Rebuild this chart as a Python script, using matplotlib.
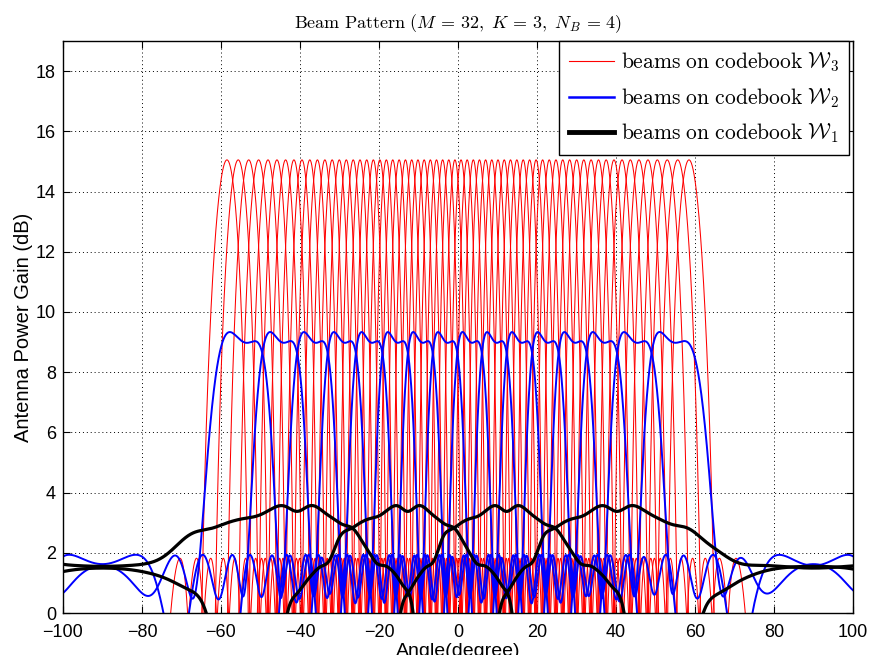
import numpy as np
import matplotlib
matplotlib.use("Agg")
import matplotlib.pyplot as plt
from matplotlib.lines import Line2D

# ---------------- chart data ----------------
M = 32              # antennas
K = 3               # codebook levels
N_B = 4             # beams split per level
coverage_deg = 60   # codebook covers [-60, 60] degrees

# beam profile of a codebook-W1 beam
# (offset from beam centre in sin(angle), gain in dB)
w1_offset = [-0.475, -0.43, -0.36, -0.33, -0.275, -0.24, -0.18, -0.13, -0.056,
             -0.005, 0.052, 0.147, 0.206, 0.295, 0.354, 0.426, 0.46]
w1_gain_db = [0.0, 0.76, 1.54, 1.6, 2.66, 2.8, 3.1, 3.2, 3.6,
              3.36, 3.6, 3.0, 2.8, 1.65, 1.5, 0.76, 0.0]
w1_sidelobe_db = [-1.0, -1.0]      # near / far sidelobe ceiling

# beam profile of a codebook-W2 beam
w2_offset = [-0.112, -0.10, -0.09, -0.08, -0.07, -0.06, -0.046, 0.0, 0.048,
             0.06, 0.07, 0.08, 0.09, 0.10, 0.114]
w2_gain_db = [0.0, 1.5, 3.5, 5.5, 7.3, 8.6, 9.3, 9.07, 8.85,
              8.3, 7.0, 5.2, 3.2, 1.6, 0.0]
w2_sidelobe_db = [1.9, -2.0]       # near / far sidelobe ceiling
near_zone = 0.25

x_ticks = [-100, -80, -60, -40, -20, 0, 20, 40, 60, 80, 100]
y_ticks = [0, 2, 4, 6, 8, 10, 12, 14, 16, 18]
x_lim = [-100, 100]
y_lim = [0, 19]

title = r"$\mathrm{Beam\ Pattern}\ (M\,=\,32,\ K\,=\,3,\ N_B\,=\,4)$"
legend_labels = [r"$\mathrm{beams\ on\ codebook}\ \mathcal{W}_3$",
                 r"$\mathrm{beams\ on\ codebook}\ \mathcal{W}_2$",
                 r"$\mathrm{beams\ on\ codebook}\ \mathcal{W}_1$"]
x_label = "Angle(degree)"
y_label = "Antenna Power Gain (dB)"

# ---------------- array model ----------------
m = np.arange(M)
smax = np.sin(np.deg2rad(coverage_deg))

theta = np.linspace(x_lim[0], x_lim[1], 8001)
E_plot = np.exp(-1j * np.pi * np.outer(np.sin(np.deg2rad(theta)), m))

N_d = 1024
s_d = -1 + 2 * np.arange(N_d) / N_d
E_d = np.exp(-1j * np.pi * np.outer(s_d, m))


def pattern_db(w):
    w = w / np.linalg.norm(w)
    return 10 * np.log10(np.abs(E_plot @ w) ** 2 + 1e-12)


def design(center, offs, gains_db, side_db, iters=400):
    u = ((s_d - center + 1) % 2) - 1
    inside = (u >= offs[0]) & (u <= offs[-1])
    tgt = np.sqrt(10 ** (np.interp(u, offs, gains_db) / 10))
    cap = np.where(np.abs(u) < near_zone,
                   np.sqrt(10 ** (side_db[0] / 10)),
                   np.sqrt(10 ** (side_db[1] / 10)))
    w = E_d.conj().T @ np.where(inside, tgt, 0) / N_d
    for _ in range(iters):
        w = w / np.linalg.norm(w)
        r = E_d @ w
        ph = np.exp(1j * np.angle(r))
        r2 = np.where(inside, tgt * ph, np.where(np.abs(r) > cap, cap * ph, r))
        w = E_d.conj().T @ r2 / N_d
    return w


def centers(level):
    nb = N_B ** level
    return smax * (-1 + (2 * np.arange(nb) + 1) / nb)


patterns = {}
patterns[3] = [pattern_db(np.exp(1j * np.pi * m * c)) for c in centers(3)]
patterns[2] = [pattern_db(design(c, w2_offset, w2_gain_db, w2_sidelobe_db))
               for c in centers(2)]
patterns[1] = [pattern_db(design(c, w1_offset, w1_gain_db, w1_sidelobe_db))
               for c in centers(1)]

# ---------------- figure ----------------
plt.rcParams["mathtext.fontset"] = "cm"
plt.rcParams["font.family"] = ["Liberation Sans", "DejaVu Sans"]

fig = plt.figure(figsize=(8.72, 6.55), dpi=100)
ax = fig.add_axes([0.0722, 0.0641, 0.9060, 0.8733])

styles = {3: ("red", 0.75, 2), 2: ("blue", 1.4, 3), 1: ("black", 2.3, 4)}
for lev in (3, 2, 1):
    col, lw, z = styles[lev]
    for p in patterns[lev]:
        ax.plot(theta, p, color=col, lw=lw, zorder=z)

ax.set_xlim(x_lim)
ax.set_ylim(y_lim)
ax.set_xticks(x_ticks)
ax.set_yticks(y_ticks)
ax.set_xticklabels([("\u2212" + str(-t)) if t < 0 else str(t) for t in x_ticks])
ax.tick_params(direction="in", top=True, right=True, labelsize=13, length=5)
ax.tick_params(axis="x", pad=8)
ax.tick_params(axis="y", pad=5)
ax.grid(True, linestyle=(0, (1, 3)), color="black", lw=0.7)
for sp in ax.spines.values():
    sp.set_linewidth(1.0)
    sp.set_zorder(6)

ax.set_xlabel(x_label, fontsize=14, labelpad=1)
ax.set_ylabel(y_label, fontsize=14.5, labelpad=2)
ax.set_title(title, fontsize=13, pad=9)

handles = [Line2D([], [], color="red", lw=0.8),
           Line2D([], [], color="blue", lw=1.8),
           Line2D([], [], color="black", lw=3.5)]
leg = ax.legend(handles, legend_labels, loc="upper right",
                bbox_to_anchor=(1 - 4 / 790, 1), borderaxespad=0,
                fontsize=15.5, fancybox=False, framealpha=1, edgecolor="black",
                handlelength=2.1, labelspacing=0.55, borderpad=0.45,
                handletextpad=0.33)
leg.get_frame().set_linewidth(1.0)
leg.set_zorder(10)

fig.savefig("out.png", dpi=100)
